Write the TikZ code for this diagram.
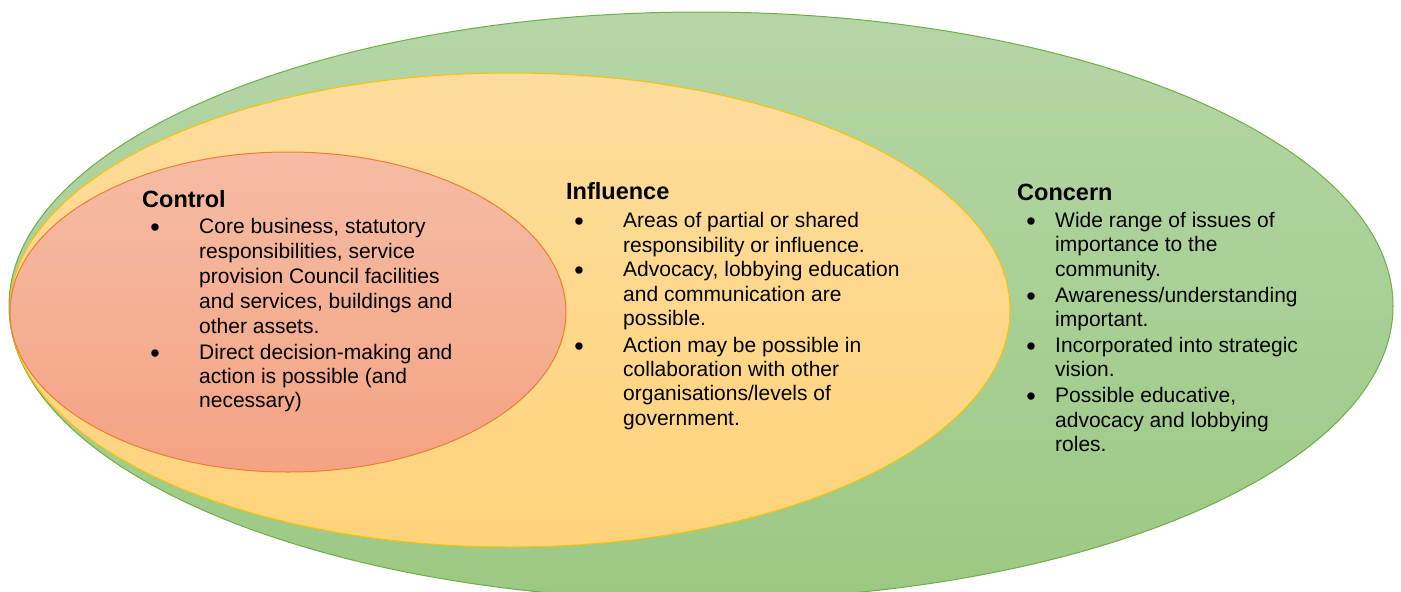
\documentclass[tikz,border=0pt]{standalone}
\usepackage{fontspec}
\setmainfont{Liberation Sans}
\usetikzlibrary{shapes.geometric}
\definecolor{gTop}{HTML}{B5D6A7}
\definecolor{gBot}{HTML}{9BC983}
\definecolor{gEdge}{HTML}{70AD47}
\definecolor{yTop}{HTML}{FEDC9D}
\definecolor{yBot}{HTML}{FED37A}
\definecolor{yEdge}{HTML}{FFC000}
\definecolor{rTop}{HTML}{F5BCA4}
\definecolor{rBot}{HTML}{F4A383}
\definecolor{rEdge}{HTML}{ED7D31}
\tikzset{
  ring/.style={ellipse, inner sep=0pt, line width=1pt},
  head/.style={anchor=base west, inner sep=0pt, font=\bfseries\fontsize{23.5}{27}\selectfont},
  body/.style={anchor=base west, inner sep=0pt, font=\fontsize{21}{25}\selectfont},
  bul/.style={anchor=base, inner sep=0pt, font=\fontsize{27}{30}\selectfont}
}
\begin{document}
\begin{tikzpicture}[x=1pt,y=-1pt]
\useasboundingbox (0,0) rectangle (1401,592);
\node[ring, draw=gEdge, top color=gTop, bottom color=gBot, minimum width=1384pt, minimum height=588pt] (concern) at (701,306) {};
\node[ring, draw=yEdge, top color=yTop, bottom color=yBot, minimum width=1000pt, minimum height=474pt] (influence) at (510,310) {};
\node[ring, draw=rEdge, top color=rTop, bottom color=rBot, minimum width=556pt, minimum height=320pt] (control) at (288,312) {};

% Control
\node[head] (hctl) at (142,207) {Control};
\foreach \y in {233,359} \node[bul] (bc\y) at (155,\y+3.5) {\textbullet};
\foreach \y/\t in {233/{Core business, statutory},258/{responsibilities, service},283/{provision Council facilities},308/{and services, buildings and},333/{other assets.},359/{Direct decision-making and},383/{action is possible (and},407/{necessary)}}
  \node[body] (tc\y) at (199,\y) {\t};

% Influence
\node[head] (hinf) at (566,199) {Influence};
\foreach \y in {227,276,352} \node[bul] (bi\y) at (579,\y+3.5) {\textbullet};
\foreach \y/\t in {227/{Areas of partial or shared},252/{responsibility or influence.},276/{Advocacy, lobbying education},301/{and communication are},325/{possible.},352/{Action may be possible in},376/{collaboration with other},400/{organisations/levels of},425/{government.}}
  \node[body] (ti\y) at (623,\y) {\t};

% Concern
\node[head] (hcon) at (1017,200) {Concern};
\foreach \y in {227,302,352,402} \node[bul] (bn\y) at (1031,\y+3.5) {\textbullet};
\foreach \y/\t in {227/{Wide range of issues of},251/{importance to the},276/{community.},302/{Awareness/understanding},326/{important.},352/{Incorporated into strategic},376/{vision.},402/{Possible educative,},427/{advocacy and lobbying},451/{roles.}}
  \node[body] (tn\y) at (1055,\y) {\t};
\end{tikzpicture}
\end{document}
